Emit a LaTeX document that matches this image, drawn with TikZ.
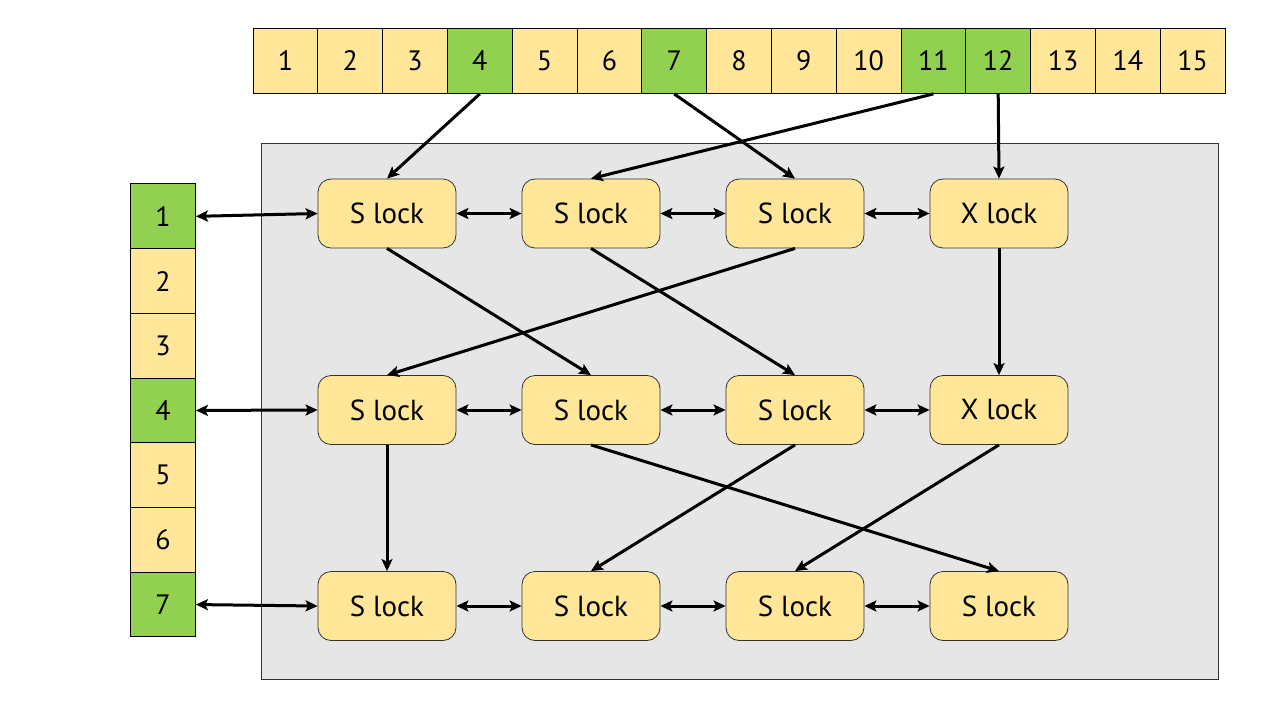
\documentclass[tikz,border=0pt]{standalone}
\usepackage{fontspec}
\setmainfont{PT Sans}
\usetikzlibrary{arrows.meta}
\definecolor{cellyellow}{HTML}{FFE699}
\definecolor{cellgreen}{HTML}{92D050}
\definecolor{panelgray}{HTML}{E6E6E6}
\tikzset{
  cell/.style={draw=black, line width=1pt, minimum width=64.8pt, minimum height=64.8pt,
    inner sep=0pt, font=\fontsize{28}{30}\selectfont},
  ycell/.style={cell, fill=cellyellow},
  gcell/.style={cell, fill=cellgreen},
  lockbox/.style={draw=black!80, line width=0.8pt, fill=cellyellow, rounded corners=13pt,
    minimum width=138pt, minimum height=69pt, inner sep=0pt, font=\fontsize{29}{30}\selectfont},
  tip/.tip={Stealth[length=12pt,width=11pt,inset=2.5pt]},
  link/.style={line width=3pt, -tip},
  dlink/.style={line width=3pt, tip-tip}
}
\begin{document}
\begin{tikzpicture}[x=1pt,y=-1pt]
\useasboundingbox (0,0) rectangle (1280,720);
% lock table panel
\draw[fill=panelgray, draw=black!80, line width=0.8pt] (261,143) rectangle (1218,679);

% top row of cells
\foreach \i in {1,...,15} {
  \pgfmathsetmacro{\cx}{253+64.8*(\i-0.5)}
  \ifnum\i=4 \def\st{gcell}\else\ifnum\i=7 \def\st{gcell}\else\ifnum\i=11 \def\st{gcell}\else\ifnum\i=12 \def\st{gcell}\else\def\st{ycell}\fi\fi\fi\fi
  \node[\st] (t\i) at (\cx,61) {\i};
}
% left column of cells
\foreach \i in {1,...,7} {
  \pgfmathsetmacro{\cy}{184+64.7*(\i-0.5)}
  \ifnum\i=1 \def\st{gcell}\else\ifnum\i=4 \def\st{gcell}\else\ifnum\i=7 \def\st{gcell}\else\def\st{ycell}\fi\fi\fi
  \node[\st] (l\i) at (163,\cy) {\i};
}

% lock nodes
\node[lockbox] (a1) at (387,213.5) {S lock};
\node[lockbox] (a2) at (591,213.5) {S lock};
\node[lockbox] (a3) at (795,213.5) {S lock};
\node[lockbox] (a4) at (999,213.5) {X lock};
\node[lockbox] (b1) at (387,410) {S lock};
\node[lockbox] (b2) at (591,410) {S lock};
\node[lockbox] (b3) at (795,410) {S lock};
\node[lockbox] (b4) at (999,410) {X lock};
\node[lockbox] (c1) at (387,606) {S lock};
\node[lockbox] (c2) at (591,606) {S lock};
\node[lockbox] (c3) at (795,606) {S lock};
\node[lockbox] (c4) at (999,606) {S lock};

% top cells to locks
\draw[link] (t4.south) -- (a1.north);
\draw[link] (t7.south) -- (a3.north);
\draw[link] (t11.south) -- (a2.north);
\draw[link] (t12.south) -- (a4.north);

% left cells to row heads
\draw[dlink] (l1.east) -- (a1.west);
\draw[dlink] (l4.east) -- (b1.west);
\draw[dlink] (l7.east) -- (c1.west);

% row links
\foreach \r in {a,b,c} {
  \draw[dlink] (\r1.east) -- (\r2.west);
  \draw[dlink] (\r2.east) -- (\r3.west);
  \draw[dlink] (\r3.east) -- (\r4.west);
}

% column links
\draw[link] (a1.south) -- (b2.north);
\draw[link] (a2.south) -- (b3.north);
\draw[link] (a3.south) -- (b1.north);
\draw[link] (a4.south) -- (b4.north);
\draw[link] (b1.south) -- (c1.north);
\draw[link] (b2.south) -- (c4.north);
\draw[link] (b3.south) -- (c2.north);
\draw[link] (b4.south) -- (c3.north);
\end{tikzpicture}
\end{document}
